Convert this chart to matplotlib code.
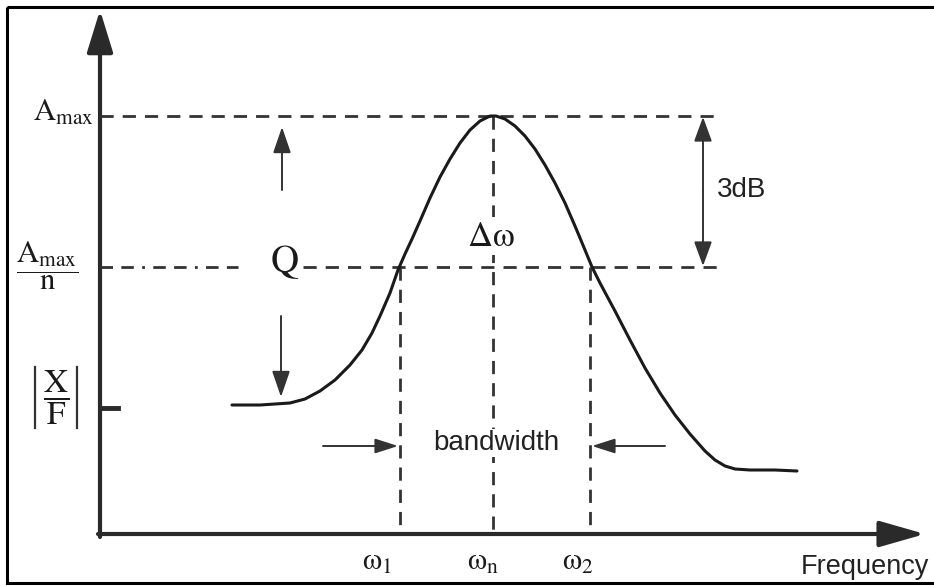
import matplotlib.pyplot as plt
from matplotlib.patches import FancyArrowPatch, Rectangle

plt.rcParams['mathtext.fontset'] = 'stix'
plt.rcParams['lines.scale_dashes'] = False

# resonance curve (x = frequency, y = amplitude, picture units)
freq = [232, 260, 290, 305, 320, 335, 350, 362, 372, 380, 390, 398, 405, 412, 420,
        430, 440, 450, 460, 470, 480, 490, 496, 505, 515, 525, 535, 545, 555, 565,
        575, 585, 592, 600, 615, 630, 645, 660, 675, 690, 705, 715, 725, 735, 750,
        775, 797]
amp = [405, 405, 403, 399, 391, 380, 365, 350, 333, 316, 293, 270, 254, 239, 221,
       198, 177, 159, 143, 130, 121, 116, 116, 119, 126, 136, 149, 165, 183, 203,
       226, 250, 267, 283, 311, 340, 368, 393, 415, 434, 451, 460, 466, 469, 470,
       470, 471]

# reference levels and frequencies
a_max = 116
a_half = 267
a_xf = 408
w1, wn, w2 = 400, 493, 590
x0, y0 = 100, 534
x_end, y_top = 925, 10
dash_end = 720

freq_labels = [r'$\mathrm{\omega}_1$', r'$\mathrm{\omega}_\mathrm{n}$', r'$\mathrm{\omega}_2$']
freq_pos = [377, 483, 578]

ink = '#1a1a1a'
grey = '#333333'
dash = (0, (9.5, 6.5))

fig = plt.figure(figsize=(9.34, 5.86), dpi=100)
ax = fig.add_axes([0, 0, 1, 1])
ax.set_xlim(0, 934)
ax.set_ylim(586, 0)
ax.set_axis_off()

ax.add_patch(Rectangle((7, 7), 940, 576, fill=False, ec='black', lw=2.2))


def arrow(p, q, hl, hw, lw=1.4, color=grey, style='-|>'):
    a = FancyArrowPatch(p, q, arrowstyle=f'{style},head_length={hl},head_width={hw}',
                        mutation_scale=1, shrinkA=0, shrinkB=0, lw=lw, color=color)
    ax.add_patch(a)


# axes
arrow((x0, y0 + 3), (x0, y_top), 26, 8, lw=3, color='#2a2a2a')
arrow((x0 - 2, y0), (x_end, y0), 28, 8, lw=3, color='#2a2a2a')
ax.plot([x0, x0 + 18], [a_xf, a_xf], color='#2a2a2a', lw=3.5)

# reference lines
ax.plot([x0, dash_end], [a_max, a_max], color=grey, lw=2, ls=dash)
ax.plot([x0, 238], [a_half, a_half], color=grey, lw=2, ls=(0, (9, 6, 9, 6, 2, 6)))
ax.plot([303, dash_end], [a_half, a_half], color=grey, lw=2, ls=dash)
ax.plot([wn, wn], [a_max, y0], color=grey, lw=2, ls=dash)
for w in (w1, w2):
    ax.plot([w, w], [a_half, y0], color=grey, lw=2, ls=dash)

# curve
ax.plot(freq, amp, color=ink, lw=2.2, solid_capstyle='round')

# annotations
arrow((282, 190), (282, 127), 16, 5.5)
arrow((281, 316), (281, 397), 16, 5.5)
arrow((703, 190), (703, 117), 15, 5.5)
arrow((703, 190), (703, 266), 15, 5.5)
arrow((323, 446), (w1 - 2, 446), 14, 4.5)
arrow((665, 446), (w2 + 2, 446), 14, 4.5)

white = dict(boxstyle='square,pad=0.05', fc='white', ec='none')
serif = dict(color=ink, ha='center', va='center')
ax.text(94, 112, r'$\mathrm{A}_{\mathrm{max}}$', fontsize=22, ha='right', va='center', color=ink)
ax.text(47, 266, r'$\dfrac{\mathrm{A}_{\mathrm{max}}}{\mathrm{n}}$', fontsize=22, **serif)
ax.text(56, 398, r'$\dfrac{\mathrm{X}}{\mathrm{F}}$', fontsize=24, **serif)
for bx in (35, 77):
    ax.plot([bx, bx], [367, 428], color=grey, lw=1.6)
ax.text(285, 262, r'$\mathrm{Q}$', fontsize=28, bbox=white, **serif)
ax.text(491, 236, r'$\Delta\mathrm{\omega}$', fontsize=25, bbox=white, **serif)
for lab, p in zip(freq_labels, freq_pos):
    ax.text(p, 561, lab, fontsize=22, **serif)

sans = dict(family='Liberation Sans', color='#222222', va='center')
ax.text(717, 190, '3dB', fontsize=20, ha='left', **sans)
ax.text(496, 443, 'bandwidth', fontsize=20, ha='center', bbox=white, **sans)
ax.text(801, 567, 'Frequency', fontsize=19.5, ha='left', **sans)

fig.savefig('out.png', dpi=100)
